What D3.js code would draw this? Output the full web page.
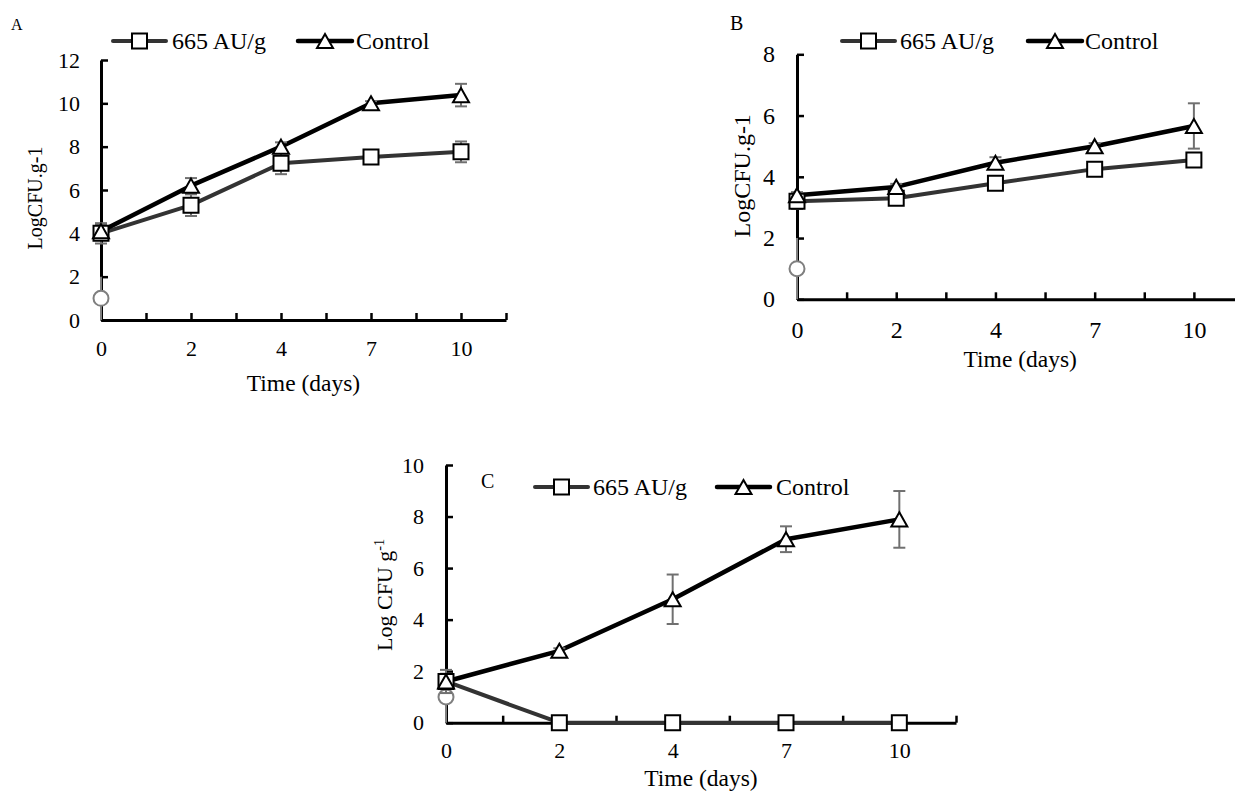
<!DOCTYPE html>
<html>
<head>
<meta charset="utf-8">
<script src="https://cdn.jsdelivr.net/npm/d3@7/dist/d3.min.js"></script>
<style>
body { margin: 0; background: #fff; }
text { font-family: "Liberation Serif", serif; }
</style>
</head>
<body>
<svg id="chart" width="1235" height="791" font-family="Liberation Serif"></svg>
<script>
// sampling days (category axis)
const days = ["0", "2", "4", "7", "10"];
const seriesNames = ["665 AU/g", "Control"];

// panel A
const treatedA = [4.0, 5.3, 7.23, 7.52, 7.76];
const treatedErrA = [0.47, 0.5, 0.5, 0.15, 0.48];
const controlA = [4.1, 6.2, 8.0, 10.0, 10.38];
const controlErrA = [0.3, 0.35, 0.2, 0.1, 0.52];
const yTicksA = [0, 2, 4, 6, 8, 10, 12];

// panel B
const treatedB = [3.2, 3.3, 3.79, 4.25, 4.55];
const treatedErrB = [0.25, 0.1, 0.1, 0.1, 0.1];
const controlB = [3.4, 3.67, 4.46, 5.0, 5.66];
const controlErrB = [0.1, 0.1, 0.18, 0.1, 0.74];
const yTicksB = [0, 2, 4, 6, 8];

// panel C
const treatedC = [1.6, 0, 0, 0, 0];
const treatedErrC = [0.45, 0, 0, 0, 0];
const controlC = [1.6, 2.79, 4.79, 7.12, 7.89];
const controlErrC = [0.3, 0.1, 0.96, 0.5, 1.1];
const yTicksC = [0, 2, 4, 6, 8, 10];

// detection limit point shown at day 0 on every panel
const limitValue = 1;
const limitErr = 1;

const FONT = "Liberation Serif";

var svg = d3.select("#chart");

function setupPanel(p) {
    var g = svg.append("g").attr("font-family", FONT);

    var x = d3.scaleLinear()
        .domain([0, 4.5])
        .range([p.left, p.right]);
    var y = d3.scaleLinear()
        .domain([0, p.yMax])
        .range([p.bottom, p.top]);

    // axes (ticks point inward like the excel original)
    var xAxis = g.append("g")
        .attr("transform", `translate(0,${p.bottom})`)
        .call(d3.axisBottom(x)
            .tickValues(d3.range(0, 4.51, 0.5))
            .tickSize(-7).tickSizeOuter(0)
            .tickPadding(p.xPad)
            .tickFormat(function(v) { return Number.isInteger(v) ? days[v] : ""; }));
    var yAxis = g.append("g")
        .attr("transform", `translate(${p.left},0)`)
        .call(d3.axisLeft(y)
            .tickValues(p.yTicks)
            .tickSize(-7).tickSizeOuter(0)
            .tickPadding(p.yPad));

    [xAxis, yAxis].forEach(function(a) {
        a.attr("font-family", FONT).attr("font-size", p.tickFont);
        a.select(".domain").attr("stroke", "#000").attr("stroke-width", 3);
        a.selectAll(".tick line").attr("stroke", "#000").attr("stroke-width", 2.5);
        a.selectAll(".tick text").attr("fill", "#000").attr("font-family", FONT);
    });
    xAxis.selectAll(".tick").filter(function(v) { return v === 0; }).select("line").remove();

    // axis titles
    g.append("text")
        .attr("x", (p.left + p.right) / 2)
        .attr("y", p.xTitleY)
        .attr("text-anchor", "middle")
        .attr("font-size", 23.5)
        .text("Time (days)");

    var yt = g.append("text")
        .attr("transform", `translate(${p.yTitleX},${(p.top + p.bottom) / 2 + p.yTitleShift}) rotate(-90)`)
        .attr("text-anchor", "middle")
        .attr("font-size", p.yTitleFont);
    if (p.superTitle) {
        yt.append("tspan").text("Log CFU g");
        yt.append("tspan").attr("dy", "-0.55em").attr("font-size", p.yTitleFont * 0.65).text("-1");
    } else {
        yt.text("LogCFU.g-1");
    }

    // panel letter
    g.append("text")
        .attr("x", p.letterX)
        .attr("y", p.letterY)
        .attr("font-size", p.letterFont)
        .text(p.letter);

    // detection limit (gray circle with bar down to zero)
    g.append("line")
        .attr("x1", x(0)).attr("x2", x(0))
        .attr("y1", y(limitValue - limitErr)).attr("y2", y(limitValue + limitErr))
        .attr("stroke", "#7f7f7f").attr("stroke-width", 2);
    g.append("circle")
        .attr("cx", x(0)).attr("cy", y(limitValue))
        .attr("r", 7.5)
        .attr("fill", "#fff").attr("stroke", "#7f7f7f").attr("stroke-width", 2);

    var line = d3.line()
        .x(function(d, i) { return x(i); })
        .y(function(d) { return y(d); });

    var series = [
        { vals: p.treated, errs: p.treatedErr, color: "#333333", width: 4, shape: "square" },
        { vals: p.control, errs: p.controlErr, color: "#000000", width: 4.5, shape: "triangle" }
    ];

    series.forEach(function(s) {
        g.append("path")
            .datum(s.vals)
            .attr("d", line)
            .attr("fill", "none")
            .attr("stroke", s.color)
            .attr("stroke-width", s.width)
            .attr("stroke-linejoin", "round");
    });

    // error bars
    series.forEach(function(s) {
        var eb = g.append("g").attr("stroke", "#707070").attr("stroke-width", 2);
        s.vals.forEach(function(v, i) {
            var e = s.errs[i];
            if (!e) return;
            var lo = y(Math.max(0, v - e)), hi = y(v + e);
            eb.append("line").attr("x1", x(i)).attr("x2", x(i)).attr("y1", lo).attr("y2", hi);
            eb.append("line").attr("x1", x(i) - 6).attr("x2", x(i) + 6).attr("y1", hi).attr("y2", hi);
            if (v - e > 0) {
                eb.append("line").attr("x1", x(i) - 6).attr("x2", x(i) + 6).attr("y1", lo).attr("y2", lo);
            }
        });
    });

    // markers
    series.forEach(function(s) {
        g.selectAll(null)
            .data(s.vals)
            .enter()
            .append("path")
            .attr("transform", function(d, i) { return `translate(${x(i)},${y(d)})`; })
            .attr("d", s.shape === "square" ? squarePath(p.marker) : trianglePath(p.marker + 1))
            .attr("fill", "#fff")
            .attr("stroke", "#000")
            .attr("stroke-width", 2);
    });

    // legend
    var lg = g.append("g");
    p.legend.forEach(function(item, k) {
        var s = series[k];
        lg.append("line")
            .attr("x1", item.x1).attr("x2", item.x2)
            .attr("y1", p.legendY).attr("y2", p.legendY)
            .attr("stroke", s.color).attr("stroke-width", s.width)
            .attr("stroke-linecap", "round");
        lg.append("path")
            .attr("transform", `translate(${(item.x1 + item.x2) / 2},${p.legendY})`)
            .attr("d", s.shape === "square" ? squarePath(p.marker) : trianglePath(p.marker + 1))
            .attr("fill", "#fff").attr("stroke", "#000").attr("stroke-width", 2);
        lg.append("text")
            .attr("x", item.tx)
            .attr("y", p.legendY + 8)
            .attr("font-size", 24)
            .text(seriesNames[k]);
    });
}

function squarePath(s) {
    var h = s / 2;
    return `M${-h},${-h}H${h}V${h}H${-h}Z`;
}

function trianglePath(s) {
    var w = s / 2, h = s * 0.44;
    return `M0,${-h}L${w},${h}L${-w},${h}Z`;
}

setupPanel({
    letter: "A", letterX: 11, letterY: 30, letterFont: 16,
    left: 101, right: 506, top: 60, bottom: 320, yMax: 12, yTicks: yTicksA,
    treated: treatedA, treatedErr: treatedErrA, control: controlA, controlErr: controlErrA,
    tickFont: 22, xPad: 20, yPad: 21,
    xTitleY: 391, yTitleX: 42, yTitleShift: 8, yTitleFont: 20,
    marker: 15, legendY: 41,
    legend: [{ x1: 113, x2: 166, tx: 172 }, { x1: 298, x2: 352, tx: 356 }]
});

setupPanel({
    letter: "B", letterX: 730, letterY: 30, letterFont: 20,
    left: 797, right: 1243.5, top: 54.3, bottom: 299.3, yMax: 8, yTicks: yTicksB,
    treated: treatedB, treatedErr: treatedErrB, control: controlB, controlErr: controlErrB,
    tickFont: 24, xPad: 22, yPad: 22,
    xTitleY: 367, yTitleX: 750, yTitleShift: -1, yTitleFont: 24,
    marker: 15, legendY: 41,
    legend: [{ x1: 842, x2: 895, tx: 900 }, { x1: 1028, x2: 1082, tx: 1085 }]
});

setupPanel({
    letter: "C", letterX: 481, letterY: 488, letterFont: 20,
    left: 446, right: 956, top: 465, bottom: 722.7, yMax: 10, yTicks: yTicksC,
    treated: treatedC, treatedErr: treatedErrC, control: controlC, controlErr: controlErrC,
    tickFont: 22, xPad: 20, yPad: 22,
    xTitleY: 786, yTitleX: 392, yTitleShift: 1, yTitleFont: 22, superTitle: true,
    marker: 15, legendY: 487,
    legend: [{ x1: 535, x2: 588, tx: 593 }, { x1: 717, x2: 770, tx: 776 }]
});
</script>
</body>
</html>
